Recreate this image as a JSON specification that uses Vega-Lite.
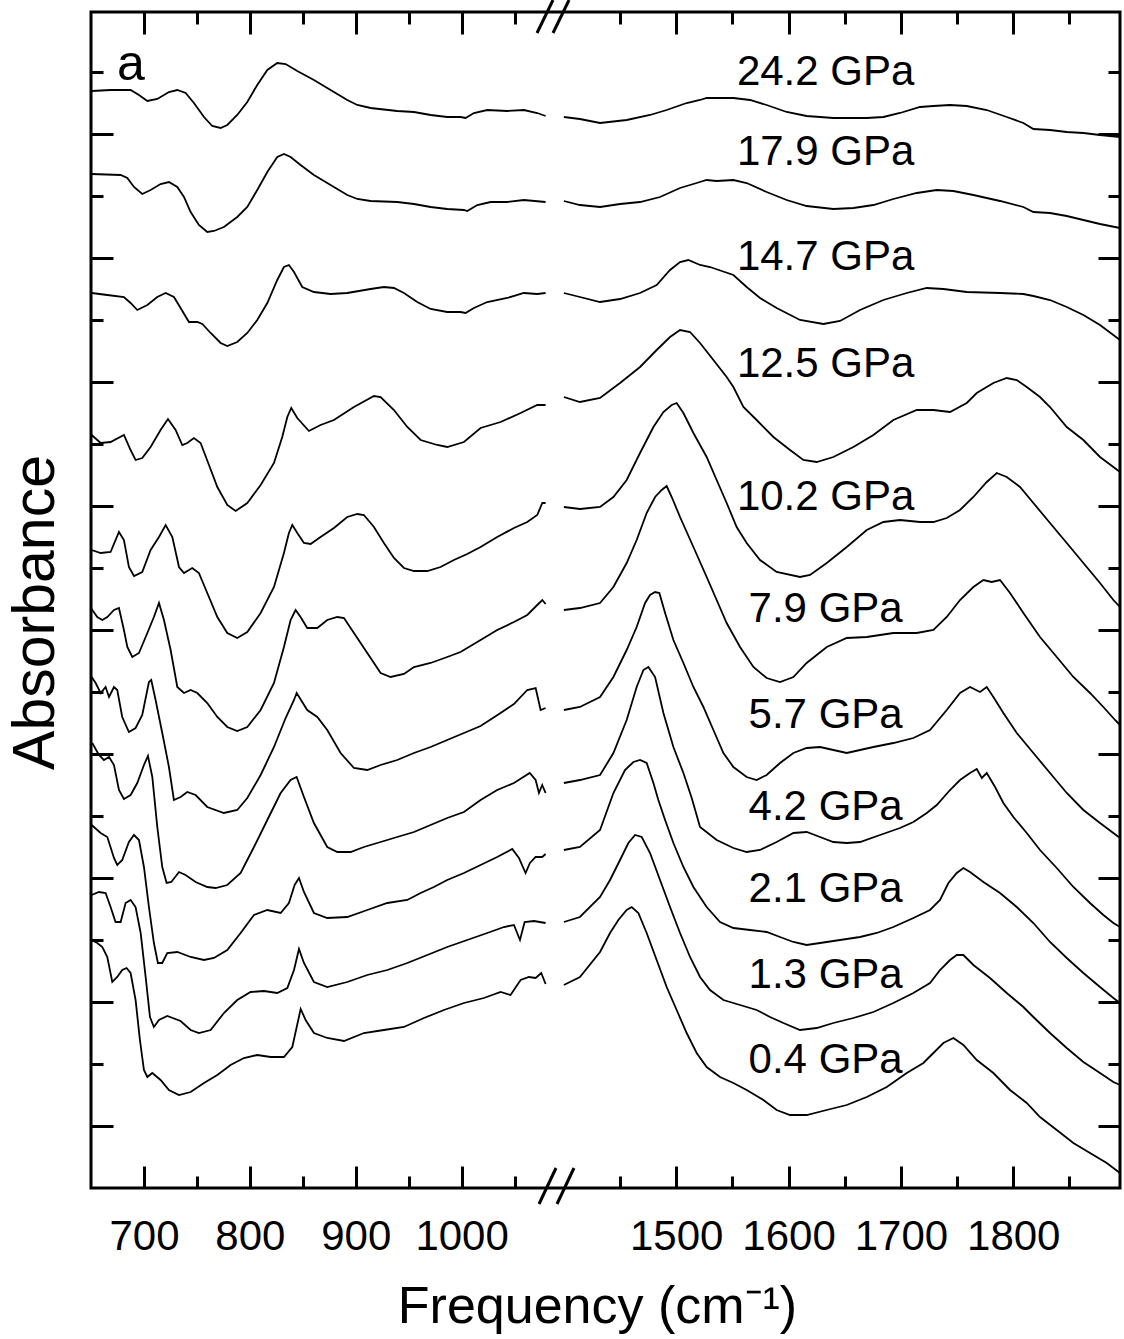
{
"$schema": "https://vega.github.io/schema/vega-lite/v6.json",
"width": 1029, "height": 1176,
"autosize": {"type": "none"},
"padding": {"left": 91, "top": 12, "right": 4, "bottom": 151},
"background": "white",
"config": {
 "view": {"stroke": "black", "strokeWidth": 3},
 "font": "Liberation Sans",
 "axis": {"grid": false, "domain": false, "tickColor": "black", "tickWidth": 3, "labelColor": "black", "titleColor": "black", "labelFont": "Liberation Sans", "titleFont": "Liberation Sans", "titleFontWeight": "normal"}
},
"datasets": {
"spectra": [
{"p":"24.2","s":"L","f":650.6,"a":1.097},{"p":"24.2","s":"L","f":668.5,"a":1.098},{"p":"24.2","s":"L","f":687.4,"a":1.098},{"p":"24.2","s":"L","f":695.3,"a":1.093},{"p":"24.2","s":"L","f":703.2,"a":1.087},{"p":"24.2","s":"L","f":712.6,"a":1.089},{"p":"24.2","s":"L","f":723.6,"a":1.096},{"p":"24.2","s":"L","f":731.5,"a":1.098},{"p":"24.2","s":"L","f":739.4,"a":1.095},{"p":"24.2","s":"L","f":747.2,"a":1.085},{"p":"24.2","s":"L","f":756.7,"a":1.071},{"p":"24.2","s":"L","f":764.5,"a":1.062},{"p":"24.2","s":"L","f":772.4,"a":1.060},{"p":"24.2","s":"L","f":778.7,"a":1.063},{"p":"24.2","s":"L","f":788.1,"a":1.073},{"p":"24.2","s":"L","f":797.6,"a":1.086},{"p":"24.2","s":"L","f":807.0,"a":1.103},{"p":"24.2","s":"L","f":816.5,"a":1.118},{"p":"24.2","s":"L","f":825.9,"a":1.125},{"p":"24.2","s":"L","f":833.8,"a":1.124},{"p":"24.2","s":"L","f":844.8,"a":1.117},{"p":"24.2","s":"L","f":860.5,"a":1.108},{"p":"24.2","s":"L","f":879.4,"a":1.096},{"p":"24.2","s":"L","f":892.0,"a":1.088},{"p":"24.2","s":"L","f":901.5,"a":1.083},{"p":"24.2","s":"L","f":914.0,"a":1.080},{"p":"24.2","s":"L","f":939.2,"a":1.077},{"p":"24.2","s":"L","f":955.0,"a":1.076},{"p":"24.2","s":"L","f":970.7,"a":1.073},{"p":"24.2","s":"L","f":986.4,"a":1.071},{"p":"24.2","s":"L","f":999.0,"a":1.071},{"p":"24.2","s":"L","f":1003.7,"a":1.070},{"p":"24.2","s":"L","f":1011.6,"a":1.075},{"p":"24.2","s":"L","f":1024.2,"a":1.078},{"p":"24.2","s":"L","f":1043.1,"a":1.077},{"p":"24.2","s":"L","f":1058.8,"a":1.078},{"p":"24.2","s":"L","f":1071.4,"a":1.075},{"p":"24.2","s":"L","f":1079.3,"a":1.072},
{"p":"24.2","s":"R","f":1400,"a":1.071},{"p":"24.2","s":"R","f":1414.3,"a":1.069},{"p":"24.2","s":"R","f":1432.2,"a":1.065},{"p":"24.2","s":"R","f":1455.9,"a":1.068},{"p":"24.2","s":"R","f":1476.7,"a":1.073},{"p":"24.2","s":"R","f":1491.5,"a":1.078},{"p":"24.2","s":"R","f":1509.3,"a":1.085},{"p":"24.2","s":"R","f":1521.2,"a":1.088},{"p":"24.2","s":"R","f":1527.1,"a":1.090},{"p":"24.2","s":"R","f":1550.9,"a":1.090},{"p":"24.2","s":"R","f":1565.7,"a":1.088},{"p":"24.2","s":"R","f":1580.5,"a":1.083},{"p":"24.2","s":"R","f":1598.3,"a":1.076},{"p":"24.2","s":"R","f":1616.1,"a":1.072},{"p":"24.2","s":"R","f":1639.9,"a":1.070},{"p":"24.2","s":"R","f":1669.6,"a":1.070},{"p":"24.2","s":"R","f":1684.4,"a":1.071},{"p":"24.2","s":"R","f":1699.2,"a":1.075},{"p":"24.2","s":"R","f":1717.0,"a":1.081},{"p":"24.2","s":"R","f":1728.9,"a":1.082},{"p":"24.2","s":"R","f":1743.7,"a":1.083},{"p":"24.2","s":"R","f":1758.6,"a":1.082},{"p":"24.2","s":"R","f":1776.4,"a":1.078},{"p":"24.2","s":"R","f":1794.2,"a":1.071},{"p":"24.2","s":"R","f":1809.0,"a":1.065},{"p":"24.2","s":"R","f":1817.9,"a":1.059},{"p":"24.2","s":"R","f":1832.7,"a":1.058},{"p":"24.2","s":"R","f":1847.6,"a":1.056},{"p":"24.2","s":"R","f":1862.4,"a":1.055},{"p":"24.2","s":"R","f":1877.2,"a":1.053},{"p":"24.2","s":"R","f":1895.0,"a":1.051},
{"p":"17.9","s":"L","f":650.6,"a":1.014},{"p":"17.9","s":"L","f":678.0,"a":1.013},{"p":"17.9","s":"L","f":684.3,"a":1.010},{"p":"17.9","s":"L","f":690.6,"a":1.001},{"p":"17.9","s":"L","f":698.4,"a":0.994},{"p":"17.9","s":"L","f":706.3,"a":0.998},{"p":"17.9","s":"L","f":715.7,"a":1.004},{"p":"17.9","s":"L","f":723.6,"a":1.006},{"p":"17.9","s":"L","f":731.5,"a":1.001},{"p":"17.9","s":"L","f":737.8,"a":0.991},{"p":"17.9","s":"L","f":744.1,"a":0.976},{"p":"17.9","s":"L","f":751.9,"a":0.963},{"p":"17.9","s":"L","f":759.8,"a":0.956},{"p":"17.9","s":"L","f":766.1,"a":0.957},{"p":"17.9","s":"L","f":775.5,"a":0.961},{"p":"17.9","s":"L","f":788.1,"a":0.971},{"p":"17.9","s":"L","f":797.6,"a":0.981},{"p":"17.9","s":"L","f":807.0,"a":0.998},{"p":"17.9","s":"L","f":816.5,"a":1.016},{"p":"17.9","s":"L","f":825.9,"a":1.031},{"p":"17.9","s":"L","f":832.2,"a":1.034},{"p":"17.9","s":"L","f":838.5,"a":1.031},{"p":"17.9","s":"L","f":847.9,"a":1.023},{"p":"17.9","s":"L","f":860.5,"a":1.013},{"p":"17.9","s":"L","f":879.4,"a":1.001},{"p":"17.9","s":"L","f":892.0,"a":0.993},{"p":"17.9","s":"L","f":901.5,"a":0.989},{"p":"17.9","s":"L","f":914.0,"a":0.987},{"p":"17.9","s":"L","f":939.2,"a":0.986},{"p":"17.9","s":"L","f":955.0,"a":0.984},{"p":"17.9","s":"L","f":970.7,"a":0.981},{"p":"17.9","s":"L","f":986.4,"a":0.979},{"p":"17.9","s":"L","f":1002.2,"a":0.978},{"p":"17.9","s":"L","f":1005.3,"a":0.977},{"p":"17.9","s":"L","f":1014.8,"a":0.983},{"p":"17.9","s":"L","f":1027.4,"a":0.986},{"p":"17.9","s":"L","f":1043.1,"a":0.986},{"p":"17.9","s":"L","f":1058.8,"a":0.988},{"p":"17.9","s":"L","f":1079.3,"a":0.986},
{"p":"17.9","s":"R","f":1400,"a":0.987},{"p":"17.9","s":"R","f":1414.3,"a":0.983},{"p":"17.9","s":"R","f":1432.2,"a":0.981},{"p":"17.9","s":"R","f":1450.0,"a":0.984},{"p":"17.9","s":"R","f":1467.8,"a":0.986},{"p":"17.9","s":"R","f":1485.6,"a":0.991},{"p":"17.9","s":"R","f":1503.4,"a":1.000},{"p":"17.9","s":"R","f":1518.2,"a":1.005},{"p":"17.9","s":"R","f":1527.1,"a":1.008},{"p":"17.9","s":"R","f":1536.0,"a":1.007},{"p":"17.9","s":"R","f":1550.9,"a":1.008},{"p":"17.9","s":"R","f":1562.7,"a":1.005},{"p":"17.9","s":"R","f":1580.5,"a":0.996},{"p":"17.9","s":"R","f":1598.3,"a":0.988},{"p":"17.9","s":"R","f":1616.1,"a":0.982},{"p":"17.9","s":"R","f":1639.9,"a":0.979},{"p":"17.9","s":"R","f":1657.7,"a":0.980},{"p":"17.9","s":"R","f":1675.5,"a":0.983},{"p":"17.9","s":"R","f":1693.3,"a":0.989},{"p":"17.9","s":"R","f":1714.1,"a":0.995},{"p":"17.9","s":"R","f":1731.9,"a":0.998},{"p":"17.9","s":"R","f":1746.7,"a":0.997},{"p":"17.9","s":"R","f":1764.5,"a":0.993},{"p":"17.9","s":"R","f":1788.2,"a":0.987},{"p":"17.9","s":"R","f":1809.0,"a":0.981},{"p":"17.9","s":"R","f":1817.9,"a":0.976},{"p":"17.9","s":"R","f":1832.7,"a":0.975},{"p":"17.9","s":"R","f":1847.6,"a":0.972},{"p":"17.9","s":"R","f":1862.4,"a":0.968},{"p":"17.9","s":"R","f":1877.2,"a":0.964},{"p":"17.9","s":"R","f":1895.0,"a":0.960},
{"p":"14.7","s":"L","f":650.6,"a":0.895},{"p":"14.7","s":"L","f":665.4,"a":0.893},{"p":"14.7","s":"L","f":681.1,"a":0.891},{"p":"14.7","s":"L","f":687.4,"a":0.885},{"p":"14.7","s":"L","f":693.7,"a":0.878},{"p":"14.7","s":"L","f":703.2,"a":0.883},{"p":"14.7","s":"L","f":712.6,"a":0.891},{"p":"14.7","s":"L","f":720.5,"a":0.895},{"p":"14.7","s":"L","f":728.3,"a":0.891},{"p":"14.7","s":"L","f":734.6,"a":0.880},{"p":"14.7","s":"L","f":742.5,"a":0.866},{"p":"14.7","s":"L","f":750.4,"a":0.866},{"p":"14.7","s":"L","f":755.1,"a":0.864},{"p":"14.7","s":"L","f":763.0,"a":0.855},{"p":"14.7","s":"L","f":772.4,"a":0.845},{"p":"14.7","s":"L","f":778.7,"a":0.842},{"p":"14.7","s":"L","f":788.1,"a":0.846},{"p":"14.7","s":"L","f":797.6,"a":0.855},{"p":"14.7","s":"L","f":807.0,"a":0.868},{"p":"14.7","s":"L","f":816.5,"a":0.885},{"p":"14.7","s":"L","f":825.9,"a":0.908},{"p":"14.7","s":"L","f":832.2,"a":0.921},{"p":"14.7","s":"L","f":836.9,"a":0.923},{"p":"14.7","s":"L","f":841.7,"a":0.916},{"p":"14.7","s":"L","f":849.5,"a":0.901},{"p":"14.7","s":"L","f":860.5,"a":0.896},{"p":"14.7","s":"L","f":876.3,"a":0.894},{"p":"14.7","s":"L","f":892.0,"a":0.895},{"p":"14.7","s":"L","f":914.0,"a":0.899},{"p":"14.7","s":"L","f":926.6,"a":0.901},{"p":"14.7","s":"L","f":936.1,"a":0.900},{"p":"14.7","s":"L","f":945.5,"a":0.895},{"p":"14.7","s":"L","f":958.1,"a":0.886},{"p":"14.7","s":"L","f":970.7,"a":0.879},{"p":"14.7","s":"L","f":986.4,"a":0.876},{"p":"14.7","s":"L","f":999.0,"a":0.876},{"p":"14.7","s":"L","f":1003.7,"a":0.875},{"p":"14.7","s":"L","f":1011.6,"a":0.880},{"p":"14.7","s":"L","f":1024.2,"a":0.886},{"p":"14.7","s":"L","f":1043.1,"a":0.890},{"p":"14.7","s":"L","f":1058.8,"a":0.895},{"p":"14.7","s":"L","f":1071.4,"a":0.894},{"p":"14.7","s":"L","f":1079.3,"a":0.895},
{"p":"14.7","s":"R","f":1400,"a":0.895},{"p":"14.7","s":"R","f":1414.3,"a":0.891},{"p":"14.7","s":"R","f":1432.2,"a":0.886},{"p":"14.7","s":"R","f":1450.0,"a":0.889},{"p":"14.7","s":"R","f":1467.8,"a":0.895},{"p":"14.7","s":"R","f":1482.6,"a":0.903},{"p":"14.7","s":"R","f":1494.5,"a":0.918},{"p":"14.7","s":"R","f":1503.4,"a":0.926},{"p":"14.7","s":"R","f":1510.8,"a":0.928},{"p":"14.7","s":"R","f":1521.2,"a":0.923},{"p":"14.7","s":"R","f":1530.1,"a":0.921},{"p":"14.7","s":"R","f":1550.9,"a":0.913},{"p":"14.7","s":"R","f":1562.7,"a":0.901},{"p":"14.7","s":"R","f":1574.6,"a":0.890},{"p":"14.7","s":"R","f":1589.4,"a":0.880},{"p":"14.7","s":"R","f":1610.2,"a":0.868},{"p":"14.7","s":"R","f":1631.0,"a":0.864},{"p":"14.7","s":"R","f":1645.8,"a":0.867},{"p":"14.7","s":"R","f":1663.6,"a":0.878},{"p":"14.7","s":"R","f":1684.4,"a":0.888},{"p":"14.7","s":"R","f":1705.2,"a":0.895},{"p":"14.7","s":"R","f":1723.0,"a":0.900},{"p":"14.7","s":"R","f":1737.8,"a":0.899},{"p":"14.7","s":"R","f":1758.6,"a":0.896},{"p":"14.7","s":"R","f":1788.2,"a":0.895},{"p":"14.7","s":"R","f":1809.0,"a":0.894},{"p":"14.7","s":"R","f":1817.9,"a":0.892},{"p":"14.7","s":"R","f":1832.7,"a":0.888},{"p":"14.7","s":"R","f":1847.6,"a":0.881},{"p":"14.7","s":"R","f":1862.4,"a":0.873},{"p":"14.7","s":"R","f":1877.2,"a":0.863},{"p":"14.7","s":"R","f":1895.0,"a":0.848},
{"p":"12.5","s":"L","f":650.6,"a":0.753},{"p":"12.5","s":"L","f":659.1,"a":0.745},{"p":"12.5","s":"L","f":668.5,"a":0.746},{"p":"12.5","s":"L","f":681.1,"a":0.753},{"p":"12.5","s":"L","f":687.4,"a":0.738},{"p":"12.5","s":"L","f":692.1,"a":0.728},{"p":"12.5","s":"L","f":698.4,"a":0.730},{"p":"12.5","s":"L","f":706.3,"a":0.741},{"p":"12.5","s":"L","f":715.7,"a":0.758},{"p":"12.5","s":"L","f":722.7,"a":0.769},{"p":"12.5","s":"L","f":729.9,"a":0.758},{"p":"12.5","s":"L","f":736.2,"a":0.743},{"p":"12.5","s":"L","f":740.9,"a":0.745},{"p":"12.5","s":"L","f":747.2,"a":0.750},{"p":"12.5","s":"L","f":753.5,"a":0.745},{"p":"12.5","s":"L","f":761.4,"a":0.723},{"p":"12.5","s":"L","f":769.3,"a":0.701},{"p":"12.5","s":"L","f":778.7,"a":0.683},{"p":"12.5","s":"L","f":786.6,"a":0.677},{"p":"12.5","s":"L","f":797.6,"a":0.685},{"p":"12.5","s":"L","f":810.2,"a":0.703},{"p":"12.5","s":"L","f":822.8,"a":0.725},{"p":"12.5","s":"L","f":830.6,"a":0.751},{"p":"12.5","s":"L","f":835.4,"a":0.771},{"p":"12.5","s":"L","f":839.1,"a":0.780},{"p":"12.5","s":"L","f":844.8,"a":0.770},{"p":"12.5","s":"L","f":855.8,"a":0.757},{"p":"12.5","s":"L","f":866.8,"a":0.763},{"p":"12.5","s":"L","f":879.4,"a":0.768},{"p":"12.5","s":"L","f":898.3,"a":0.781},{"p":"12.5","s":"L","f":917.2,"a":0.792},{"p":"12.5","s":"L","f":923.5,"a":0.791},{"p":"12.5","s":"L","f":936.1,"a":0.778},{"p":"12.5","s":"L","f":948.7,"a":0.761},{"p":"12.5","s":"L","f":961.3,"a":0.748},{"p":"12.5","s":"L","f":977.0,"a":0.743},{"p":"12.5","s":"L","f":986.4,"a":0.741},{"p":"12.5","s":"L","f":1002.2,"a":0.746},{"p":"12.5","s":"L","f":1017.9,"a":0.760},{"p":"12.5","s":"L","f":1036.8,"a":0.766},{"p":"12.5","s":"L","f":1055.7,"a":0.775},{"p":"12.5","s":"L","f":1071.4,"a":0.783},{"p":"12.5","s":"L","f":1079.3,"a":0.783},
{"p":"12.5","s":"R","f":1400,"a":0.791},{"p":"12.5","s":"R","f":1414.3,"a":0.786},{"p":"12.5","s":"R","f":1432.2,"a":0.790},{"p":"12.5","s":"R","f":1450.0,"a":0.805},{"p":"12.5","s":"R","f":1467.8,"a":0.821},{"p":"12.5","s":"R","f":1482.6,"a":0.838},{"p":"12.5","s":"R","f":1494.5,"a":0.851},{"p":"12.5","s":"R","f":1503.4,"a":0.858},{"p":"12.5","s":"R","f":1512.3,"a":0.856},{"p":"12.5","s":"R","f":1521.2,"a":0.845},{"p":"12.5","s":"R","f":1533.1,"a":0.828},{"p":"12.5","s":"R","f":1544.9,"a":0.811},{"p":"12.5","s":"R","f":1550.9,"a":0.801},{"p":"12.5","s":"R","f":1559.8,"a":0.781},{"p":"12.5","s":"R","f":1571.6,"a":0.768},{"p":"12.5","s":"R","f":1586.5,"a":0.751},{"p":"12.5","s":"R","f":1601.3,"a":0.738},{"p":"12.5","s":"R","f":1613.2,"a":0.728},{"p":"12.5","s":"R","f":1625.0,"a":0.726},{"p":"12.5","s":"R","f":1639.9,"a":0.731},{"p":"12.5","s":"R","f":1657.7,"a":0.741},{"p":"12.5","s":"R","f":1675.5,"a":0.753},{"p":"12.5","s":"R","f":1693.3,"a":0.768},{"p":"12.5","s":"R","f":1714.1,"a":0.778},{"p":"12.5","s":"R","f":1728.9,"a":0.778},{"p":"12.5","s":"R","f":1743.7,"a":0.776},{"p":"12.5","s":"R","f":1758.6,"a":0.785},{"p":"12.5","s":"R","f":1767.5,"a":0.795},{"p":"12.5","s":"R","f":1782.3,"a":0.805},{"p":"12.5","s":"R","f":1794.2,"a":0.810},{"p":"12.5","s":"R","f":1803.1,"a":0.808},{"p":"12.5","s":"R","f":1812.0,"a":0.801},{"p":"12.5","s":"R","f":1823.8,"a":0.791},{"p":"12.5","s":"R","f":1832.7,"a":0.781},{"p":"12.5","s":"R","f":1847.6,"a":0.761},{"p":"12.5","s":"R","f":1862.4,"a":0.748},{"p":"12.5","s":"R","f":1877.2,"a":0.731},{"p":"12.5","s":"R","f":1889.1,"a":0.721},{"p":"12.5","s":"R","f":1895.0,"a":0.716},
{"p":"10.2","s":"L","f":650.6,"a":0.638},{"p":"10.2","s":"L","f":659.1,"a":0.635},{"p":"10.2","s":"L","f":668.5,"a":0.636},{"p":"10.2","s":"L","f":676.4,"a":0.656},{"p":"10.2","s":"L","f":681.1,"a":0.648},{"p":"10.2","s":"L","f":685.8,"a":0.621},{"p":"10.2","s":"L","f":690.6,"a":0.612},{"p":"10.2","s":"L","f":698.4,"a":0.616},{"p":"10.2","s":"L","f":706.3,"a":0.638},{"p":"10.2","s":"L","f":714.2,"a":0.651},{"p":"10.2","s":"L","f":720.5,"a":0.663},{"p":"10.2","s":"L","f":726.8,"a":0.651},{"p":"10.2","s":"L","f":733.1,"a":0.621},{"p":"10.2","s":"L","f":737.8,"a":0.615},{"p":"10.2","s":"L","f":745.6,"a":0.620},{"p":"10.2","s":"L","f":751.9,"a":0.615},{"p":"10.2","s":"L","f":759.8,"a":0.595},{"p":"10.2","s":"L","f":769.3,"a":0.571},{"p":"10.2","s":"L","f":778.7,"a":0.555},{"p":"10.2","s":"L","f":788.1,"a":0.550},{"p":"10.2","s":"L","f":797.6,"a":0.556},{"p":"10.2","s":"L","f":810.2,"a":0.575},{"p":"10.2","s":"L","f":822.8,"a":0.601},{"p":"10.2","s":"L","f":832.2,"a":0.635},{"p":"10.2","s":"L","f":836.9,"a":0.655},{"p":"10.2","s":"L","f":840.1,"a":0.663},{"p":"10.2","s":"L","f":844.8,"a":0.655},{"p":"10.2","s":"L","f":851.1,"a":0.645},{"p":"10.2","s":"L","f":857.4,"a":0.644},{"p":"10.2","s":"L","f":866.8,"a":0.651},{"p":"10.2","s":"L","f":879.4,"a":0.660},{"p":"10.2","s":"L","f":892.0,"a":0.671},{"p":"10.2","s":"L","f":901.5,"a":0.674},{"p":"10.2","s":"L","f":907.7,"a":0.673},{"p":"10.2","s":"L","f":917.2,"a":0.661},{"p":"10.2","s":"L","f":926.6,"a":0.645},{"p":"10.2","s":"L","f":936.1,"a":0.630},{"p":"10.2","s":"L","f":945.5,"a":0.620},{"p":"10.2","s":"L","f":955.0,"a":0.617},{"p":"10.2","s":"L","f":967.6,"a":0.617},{"p":"10.2","s":"L","f":980.1,"a":0.621},{"p":"10.2","s":"L","f":992.7,"a":0.628},{"p":"10.2","s":"L","f":1005.3,"a":0.634},{"p":"10.2","s":"L","f":1017.9,"a":0.641},{"p":"10.2","s":"L","f":1033.6,"a":0.651},{"p":"10.2","s":"L","f":1049.4,"a":0.660},{"p":"10.2","s":"L","f":1062.0,"a":0.666},{"p":"10.2","s":"L","f":1071.4,"a":0.673},{"p":"10.2","s":"L","f":1076.2,"a":0.685},{"p":"10.2","s":"L","f":1079.3,"a":0.685},
{"p":"10.2","s":"R","f":1400,"a":0.681},{"p":"10.2","s":"R","f":1414.3,"a":0.679},{"p":"10.2","s":"R","f":1432.2,"a":0.681},{"p":"10.2","s":"R","f":1444.1,"a":0.691},{"p":"10.2","s":"R","f":1455.9,"a":0.708},{"p":"10.2","s":"R","f":1467.8,"a":0.735},{"p":"10.2","s":"R","f":1479.7,"a":0.761},{"p":"10.2","s":"R","f":1488.6,"a":0.776},{"p":"10.2","s":"R","f":1496.0,"a":0.783},{"p":"10.2","s":"R","f":1500.4,"a":0.785},{"p":"10.2","s":"R","f":1506.4,"a":0.775},{"p":"10.2","s":"R","f":1515.3,"a":0.755},{"p":"10.2","s":"R","f":1527.1,"a":0.731},{"p":"10.2","s":"R","f":1536.0,"a":0.708},{"p":"10.2","s":"R","f":1544.9,"a":0.685},{"p":"10.2","s":"R","f":1553.8,"a":0.661},{"p":"10.2","s":"R","f":1562.7,"a":0.645},{"p":"10.2","s":"R","f":1574.6,"a":0.628},{"p":"10.2","s":"R","f":1589.4,"a":0.616},{"p":"10.2","s":"R","f":1610.2,"a":0.611},{"p":"10.2","s":"R","f":1619.1,"a":0.613},{"p":"10.2","s":"R","f":1634.0,"a":0.625},{"p":"10.2","s":"R","f":1651.8,"a":0.641},{"p":"10.2","s":"R","f":1669.6,"a":0.658},{"p":"10.2","s":"R","f":1684.4,"a":0.666},{"p":"10.2","s":"R","f":1699.2,"a":0.668},{"p":"10.2","s":"R","f":1717.0,"a":0.666},{"p":"10.2","s":"R","f":1728.9,"a":0.666},{"p":"10.2","s":"R","f":1740.8,"a":0.670},{"p":"10.2","s":"R","f":1752.6,"a":0.678},{"p":"10.2","s":"R","f":1764.5,"a":0.691},{"p":"10.2","s":"R","f":1776.4,"a":0.706},{"p":"10.2","s":"R","f":1785.3,"a":0.715},{"p":"10.2","s":"R","f":1794.2,"a":0.711},{"p":"10.2","s":"R","f":1806.0,"a":0.701},{"p":"10.2","s":"R","f":1817.9,"a":0.685},{"p":"10.2","s":"R","f":1832.7,"a":0.665},{"p":"10.2","s":"R","f":1847.6,"a":0.645},{"p":"10.2","s":"R","f":1862.4,"a":0.625},{"p":"10.2","s":"R","f":1877.2,"a":0.605},{"p":"10.2","s":"R","f":1889.1,"a":0.588},{"p":"10.2","s":"R","f":1895.0,"a":0.581},
{"p":"7.9","s":"L","f":650.6,"a":0.579},{"p":"7.9","s":"L","f":655.9,"a":0.571},{"p":"7.9","s":"L","f":660.7,"a":0.568},{"p":"7.9","s":"L","f":665.4,"a":0.571},{"p":"7.9","s":"L","f":671.7,"a":0.578},{"p":"7.9","s":"L","f":676.4,"a":0.580},{"p":"7.9","s":"L","f":681.1,"a":0.558},{"p":"7.9","s":"L","f":684.3,"a":0.541},{"p":"7.9","s":"L","f":689.0,"a":0.531},{"p":"7.9","s":"L","f":695.3,"a":0.535},{"p":"7.9","s":"L","f":703.2,"a":0.555},{"p":"7.9","s":"L","f":709.4,"a":0.571},{"p":"7.9","s":"L","f":714.2,"a":0.585},{"p":"7.9","s":"L","f":718.9,"a":0.568},{"p":"7.9","s":"L","f":725.2,"a":0.538},{"p":"7.9","s":"L","f":731.5,"a":0.501},{"p":"7.9","s":"L","f":737.8,"a":0.495},{"p":"7.9","s":"L","f":744.1,"a":0.498},{"p":"7.9","s":"L","f":750.4,"a":0.495},{"p":"7.9","s":"L","f":759.8,"a":0.485},{"p":"7.9","s":"L","f":769.3,"a":0.471},{"p":"7.9","s":"L","f":778.7,"a":0.461},{"p":"7.9","s":"L","f":788.1,"a":0.457},{"p":"7.9","s":"L","f":797.6,"a":0.461},{"p":"7.9","s":"L","f":810.2,"a":0.478},{"p":"7.9","s":"L","f":822.8,"a":0.505},{"p":"7.9","s":"L","f":832.2,"a":0.541},{"p":"7.9","s":"L","f":838.5,"a":0.568},{"p":"7.9","s":"L","f":843.2,"a":0.578},{"p":"7.9","s":"L","f":847.9,"a":0.571},{"p":"7.9","s":"L","f":854.2,"a":0.560},{"p":"7.9","s":"L","f":863.7,"a":0.560},{"p":"7.9","s":"L","f":873.1,"a":0.568},{"p":"7.9","s":"L","f":882.6,"a":0.571},{"p":"7.9","s":"L","f":888.9,"a":0.570},{"p":"7.9","s":"L","f":898.3,"a":0.555},{"p":"7.9","s":"L","f":910.9,"a":0.535},{"p":"7.9","s":"L","f":923.5,"a":0.515},{"p":"7.9","s":"L","f":932.9,"a":0.511},{"p":"7.9","s":"L","f":945.5,"a":0.514},{"p":"7.9","s":"L","f":955.0,"a":0.521},{"p":"7.9","s":"L","f":970.7,"a":0.525},{"p":"7.9","s":"L","f":986.4,"a":0.531},{"p":"7.9","s":"L","f":999.0,"a":0.536},{"p":"7.9","s":"L","f":1017.9,"a":0.548},{"p":"7.9","s":"L","f":1033.6,"a":0.558},{"p":"7.9","s":"L","f":1049.4,"a":0.566},{"p":"7.9","s":"L","f":1062.0,"a":0.573},{"p":"7.9","s":"L","f":1071.4,"a":0.583},{"p":"7.9","s":"L","f":1076.2,"a":0.588},{"p":"7.9","s":"L","f":1079.3,"a":0.584},
{"p":"7.9","s":"R","f":1400,"a":0.578},{"p":"7.9","s":"R","f":1414.3,"a":0.580},{"p":"7.9","s":"R","f":1432.2,"a":0.585},{"p":"7.9","s":"R","f":1444.1,"a":0.601},{"p":"7.9","s":"R","f":1455.9,"a":0.625},{"p":"7.9","s":"R","f":1464.8,"a":0.648},{"p":"7.9","s":"R","f":1473.7,"a":0.675},{"p":"7.9","s":"R","f":1481.2,"a":0.691},{"p":"7.9","s":"R","f":1487.1,"a":0.698},{"p":"7.9","s":"R","f":1491.5,"a":0.702},{"p":"7.9","s":"R","f":1496.0,"a":0.691},{"p":"7.9","s":"R","f":1503.4,"a":0.671},{"p":"7.9","s":"R","f":1515.3,"a":0.641},{"p":"7.9","s":"R","f":1527.1,"a":0.611},{"p":"7.9","s":"R","f":1536.0,"a":0.588},{"p":"7.9","s":"R","f":1544.9,"a":0.565},{"p":"7.9","s":"R","f":1556.8,"a":0.541},{"p":"7.9","s":"R","f":1568.7,"a":0.521},{"p":"7.9","s":"R","f":1580.5,"a":0.510},{"p":"7.9","s":"R","f":1592.4,"a":0.506},{"p":"7.9","s":"R","f":1604.3,"a":0.511},{"p":"7.9","s":"R","f":1616.1,"a":0.525},{"p":"7.9","s":"R","f":1634.0,"a":0.541},{"p":"7.9","s":"R","f":1651.8,"a":0.550},{"p":"7.9","s":"R","f":1669.6,"a":0.551},{"p":"7.9","s":"R","f":1693.3,"a":0.555},{"p":"7.9","s":"R","f":1714.1,"a":0.555},{"p":"7.9","s":"R","f":1728.9,"a":0.558},{"p":"7.9","s":"R","f":1740.8,"a":0.571},{"p":"7.9","s":"R","f":1752.6,"a":0.588},{"p":"7.9","s":"R","f":1764.5,"a":0.601},{"p":"7.9","s":"R","f":1773.4,"a":0.608},{"p":"7.9","s":"R","f":1780.8,"a":0.606},{"p":"7.9","s":"R","f":1788.2,"a":0.608},{"p":"7.9","s":"R","f":1797.1,"a":0.595},{"p":"7.9","s":"R","f":1809.0,"a":0.575},{"p":"7.9","s":"R","f":1823.8,"a":0.551},{"p":"7.9","s":"R","f":1838.7,"a":0.531},{"p":"7.9","s":"R","f":1853.5,"a":0.511},{"p":"7.9","s":"R","f":1868.3,"a":0.495},{"p":"7.9","s":"R","f":1880.2,"a":0.481},{"p":"7.9","s":"R","f":1890.6,"a":0.468},{"p":"7.9","s":"R","f":1895.0,"a":0.463},
{"p":"5.7","s":"L","f":650.6,"a":0.511},{"p":"5.7","s":"L","f":654.4,"a":0.505},{"p":"5.7","s":"L","f":659.1,"a":0.495},{"p":"5.7","s":"L","f":663.8,"a":0.501},{"p":"5.7","s":"L","f":667.0,"a":0.491},{"p":"5.7","s":"L","f":671.7,"a":0.501},{"p":"5.7","s":"L","f":674.8,"a":0.498},{"p":"5.7","s":"L","f":679.5,"a":0.471},{"p":"5.7","s":"L","f":685.8,"a":0.456},{"p":"5.7","s":"L","f":692.1,"a":0.460},{"p":"5.7","s":"L","f":698.4,"a":0.473},{"p":"5.7","s":"L","f":704.7,"a":0.506},{"p":"5.7","s":"L","f":706.9,"a":0.508},{"p":"5.7","s":"L","f":711.0,"a":0.488},{"p":"5.7","s":"L","f":717.3,"a":0.455},{"p":"5.7","s":"L","f":723.6,"a":0.421},{"p":"5.7","s":"L","f":728.3,"a":0.388},{"p":"5.7","s":"L","f":734.6,"a":0.391},{"p":"5.7","s":"L","f":740.9,"a":0.396},{"p":"5.7","s":"L","f":748.8,"a":0.393},{"p":"5.7","s":"L","f":759.8,"a":0.381},{"p":"5.7","s":"L","f":775.5,"a":0.375},{"p":"5.7","s":"L","f":788.1,"a":0.378},{"p":"5.7","s":"L","f":797.6,"a":0.390},{"p":"5.7","s":"L","f":810.2,"a":0.413},{"p":"5.7","s":"L","f":822.8,"a":0.441},{"p":"5.7","s":"L","f":833.8,"a":0.470},{"p":"5.7","s":"L","f":841.7,"a":0.488},{"p":"5.7","s":"L","f":844.2,"a":0.495},{"p":"5.7","s":"L","f":854.2,"a":0.478},{"p":"5.7","s":"L","f":863.7,"a":0.471},{"p":"5.7","s":"L","f":873.1,"a":0.458},{"p":"5.7","s":"L","f":885.7,"a":0.435},{"p":"5.7","s":"L","f":898.3,"a":0.420},{"p":"5.7","s":"L","f":910.9,"a":0.418},{"p":"5.7","s":"L","f":923.5,"a":0.423},{"p":"5.7","s":"L","f":939.2,"a":0.428},{"p":"5.7","s":"L","f":955.0,"a":0.435},{"p":"5.7","s":"L","f":970.7,"a":0.441},{"p":"5.7","s":"L","f":986.4,"a":0.448},{"p":"5.7","s":"L","f":1002.2,"a":0.455},{"p":"5.7","s":"L","f":1017.9,"a":0.462},{"p":"5.7","s":"L","f":1036.8,"a":0.475},{"p":"5.7","s":"L","f":1049.4,"a":0.484},{"p":"5.7","s":"L","f":1062.0,"a":0.498},{"p":"5.7","s":"L","f":1069.9,"a":0.500},{"p":"5.7","s":"L","f":1074.6,"a":0.478},{"p":"5.7","s":"L","f":1079.3,"a":0.480},
{"p":"5.7","s":"R","f":1400,"a":0.478},{"p":"5.7","s":"R","f":1414.3,"a":0.481},{"p":"5.7","s":"R","f":1432.2,"a":0.491},{"p":"5.7","s":"R","f":1444.1,"a":0.511},{"p":"5.7","s":"R","f":1455.9,"a":0.538},{"p":"5.7","s":"R","f":1464.8,"a":0.561},{"p":"5.7","s":"R","f":1472.3,"a":0.585},{"p":"5.7","s":"R","f":1476.7,"a":0.593},{"p":"5.7","s":"R","f":1481.2,"a":0.596},{"p":"5.7","s":"R","f":1485.0,"a":0.595},{"p":"5.7","s":"R","f":1490.1,"a":0.575},{"p":"5.7","s":"R","f":1497.5,"a":0.548},{"p":"5.7","s":"R","f":1506.4,"a":0.525},{"p":"5.7","s":"R","f":1515.3,"a":0.501},{"p":"5.7","s":"R","f":1524.2,"a":0.481},{"p":"5.7","s":"R","f":1533.1,"a":0.458},{"p":"5.7","s":"R","f":1542.0,"a":0.435},{"p":"5.7","s":"R","f":1550.9,"a":0.421},{"p":"5.7","s":"R","f":1562.7,"a":0.411},{"p":"5.7","s":"R","f":1571.6,"a":0.408},{"p":"5.7","s":"R","f":1580.5,"a":0.413},{"p":"5.7","s":"R","f":1592.4,"a":0.425},{"p":"5.7","s":"R","f":1604.3,"a":0.435},{"p":"5.7","s":"R","f":1616.1,"a":0.440},{"p":"5.7","s":"R","f":1628.0,"a":0.441},{"p":"5.7","s":"R","f":1639.9,"a":0.438},{"p":"5.7","s":"R","f":1651.8,"a":0.435},{"p":"5.7","s":"R","f":1663.6,"a":0.438},{"p":"5.7","s":"R","f":1675.5,"a":0.441},{"p":"5.7","s":"R","f":1693.3,"a":0.445},{"p":"5.7","s":"R","f":1711.1,"a":0.450},{"p":"5.7","s":"R","f":1725.9,"a":0.458},{"p":"5.7","s":"R","f":1740.8,"a":0.478},{"p":"5.7","s":"R","f":1752.6,"a":0.495},{"p":"5.7","s":"R","f":1761.5,"a":0.501},{"p":"5.7","s":"R","f":1770.4,"a":0.496},{"p":"5.7","s":"R","f":1776.4,"a":0.501},{"p":"5.7","s":"R","f":1782.3,"a":0.491},{"p":"5.7","s":"R","f":1791.2,"a":0.475},{"p":"5.7","s":"R","f":1803.1,"a":0.455},{"p":"5.7","s":"R","f":1817.9,"a":0.435},{"p":"5.7","s":"R","f":1832.7,"a":0.415},{"p":"5.7","s":"R","f":1847.6,"a":0.395},{"p":"5.7","s":"R","f":1862.4,"a":0.378},{"p":"5.7","s":"R","f":1877.2,"a":0.365},{"p":"5.7","s":"R","f":1895.0,"a":0.350},
{"p":"4.2","s":"L","f":651.2,"a":0.445},{"p":"4.2","s":"L","f":657.5,"a":0.433},{"p":"4.2","s":"L","f":662.2,"a":0.428},{"p":"4.2","s":"L","f":667.0,"a":0.431},{"p":"4.2","s":"L","f":671.7,"a":0.423},{"p":"4.2","s":"L","f":676.4,"a":0.398},{"p":"4.2","s":"L","f":681.1,"a":0.389},{"p":"4.2","s":"L","f":687.4,"a":0.393},{"p":"4.2","s":"L","f":693.7,"a":0.405},{"p":"4.2","s":"L","f":700.0,"a":0.423},{"p":"4.2","s":"L","f":703.8,"a":0.432},{"p":"4.2","s":"L","f":707.9,"a":0.411},{"p":"4.2","s":"L","f":712.6,"a":0.361},{"p":"4.2","s":"L","f":717.3,"a":0.321},{"p":"4.2","s":"L","f":721.4,"a":0.305},{"p":"4.2","s":"L","f":725.8,"a":0.306},{"p":"4.2","s":"L","f":733.1,"a":0.316},{"p":"4.2","s":"L","f":739.3,"a":0.313},{"p":"4.2","s":"L","f":748.8,"a":0.306},{"p":"4.2","s":"L","f":759.8,"a":0.301},{"p":"4.2","s":"L","f":767.7,"a":0.300},{"p":"4.2","s":"L","f":778.7,"a":0.303},{"p":"4.2","s":"L","f":791.3,"a":0.315},{"p":"4.2","s":"L","f":803.9,"a":0.341},{"p":"4.2","s":"L","f":816.5,"a":0.368},{"p":"4.2","s":"L","f":829.1,"a":0.395},{"p":"4.2","s":"L","f":838.5,"a":0.408},{"p":"4.2","s":"L","f":844.2,"a":0.411},{"p":"4.2","s":"L","f":851.1,"a":0.391},{"p":"4.2","s":"L","f":860.5,"a":0.365},{"p":"4.2","s":"L","f":873.1,"a":0.341},{"p":"4.2","s":"L","f":882.6,"a":0.336},{"p":"4.2","s":"L","f":895.2,"a":0.336},{"p":"4.2","s":"L","f":907.7,"a":0.341},{"p":"4.2","s":"L","f":923.5,"a":0.346},{"p":"4.2","s":"L","f":939.2,"a":0.351},{"p":"4.2","s":"L","f":955.0,"a":0.356},{"p":"4.2","s":"L","f":970.7,"a":0.363},{"p":"4.2","s":"L","f":986.4,"a":0.370},{"p":"4.2","s":"L","f":1002.2,"a":0.376},{"p":"4.2","s":"L","f":1017.9,"a":0.388},{"p":"4.2","s":"L","f":1033.6,"a":0.398},{"p":"4.2","s":"L","f":1049.4,"a":0.405},{"p":"4.2","s":"L","f":1064.3,"a":0.415},{"p":"4.2","s":"L","f":1069.9,"a":0.408},{"p":"4.2","s":"L","f":1073.0,"a":0.395},{"p":"4.2","s":"L","f":1076.1,"a":0.403},{"p":"4.2","s":"L","f":1079.3,"a":0.395},
{"p":"4.2","s":"R","f":1400,"a":0.405},{"p":"4.2","s":"R","f":1414.3,"a":0.408},{"p":"4.2","s":"R","f":1432.2,"a":0.413},{"p":"4.2","s":"R","f":1444.1,"a":0.435},{"p":"4.2","s":"R","f":1455.9,"a":0.468},{"p":"4.2","s":"R","f":1464.8,"a":0.501},{"p":"4.2","s":"R","f":1470.8,"a":0.518},{"p":"4.2","s":"R","f":1475.2,"a":0.521},{"p":"4.2","s":"R","f":1481.2,"a":0.511},{"p":"4.2","s":"R","f":1488.6,"a":0.475},{"p":"4.2","s":"R","f":1497.5,"a":0.441},{"p":"4.2","s":"R","f":1506.4,"a":0.415},{"p":"4.2","s":"R","f":1513.8,"a":0.390},{"p":"4.2","s":"R","f":1521.2,"a":0.361},{"p":"4.2","s":"R","f":1536.0,"a":0.348},{"p":"4.2","s":"R","f":1550.9,"a":0.340},{"p":"4.2","s":"R","f":1562.7,"a":0.336},{"p":"4.2","s":"R","f":1574.6,"a":0.338},{"p":"4.2","s":"R","f":1589.4,"a":0.346},{"p":"4.2","s":"R","f":1604.3,"a":0.355},{"p":"4.2","s":"R","f":1616.1,"a":0.356},{"p":"4.2","s":"R","f":1628.0,"a":0.351},{"p":"4.2","s":"R","f":1639.9,"a":0.346},{"p":"4.2","s":"R","f":1651.8,"a":0.345},{"p":"4.2","s":"R","f":1663.6,"a":0.346},{"p":"4.2","s":"R","f":1681.4,"a":0.353},{"p":"4.2","s":"R","f":1699.2,"a":0.360},{"p":"4.2","s":"R","f":1711.1,"a":0.366},{"p":"4.2","s":"R","f":1723.0,"a":0.375},{"p":"4.2","s":"R","f":1731.9,"a":0.383},{"p":"4.2","s":"R","f":1743.7,"a":0.398},{"p":"4.2","s":"R","f":1752.6,"a":0.408},{"p":"4.2","s":"R","f":1761.5,"a":0.415},{"p":"4.2","s":"R","f":1767.5,"a":0.419},{"p":"4.2","s":"R","f":1772.0,"a":0.410},{"p":"4.2","s":"R","f":1776.4,"a":0.415},{"p":"4.2","s":"R","f":1783.8,"a":0.401},{"p":"4.2","s":"R","f":1791.2,"a":0.385},{"p":"4.2","s":"R","f":1800.1,"a":0.371},{"p":"4.2","s":"R","f":1812.0,"a":0.355},{"p":"4.2","s":"R","f":1823.8,"a":0.338},{"p":"4.2","s":"R","f":1838.7,"a":0.320},{"p":"4.2","s":"R","f":1853.5,"a":0.301},{"p":"4.2","s":"R","f":1868.3,"a":0.285},{"p":"4.2","s":"R","f":1880.2,"a":0.273},{"p":"4.2","s":"R","f":1889.1,"a":0.265},{"p":"4.2","s":"R","f":1895.0,"a":0.261},
{"p":"2.1","s":"L","f":650.6,"a":0.363},{"p":"2.1","s":"L","f":659.1,"a":0.355},{"p":"2.1","s":"L","f":665.4,"a":0.351},{"p":"2.1","s":"L","f":671.7,"a":0.330},{"p":"2.1","s":"L","f":674.8,"a":0.323},{"p":"2.1","s":"L","f":679.5,"a":0.328},{"p":"2.1","s":"L","f":685.8,"a":0.346},{"p":"2.1","s":"L","f":690.6,"a":0.353},{"p":"2.1","s":"L","f":695.3,"a":0.348},{"p":"2.1","s":"L","f":700.0,"a":0.321},{"p":"2.1","s":"L","f":704.7,"a":0.281},{"p":"2.1","s":"L","f":709.4,"a":0.245},{"p":"2.1","s":"L","f":713.2,"a":0.225},{"p":"2.1","s":"L","f":717.3,"a":0.225},{"p":"2.1","s":"L","f":722.0,"a":0.235},{"p":"2.1","s":"L","f":731.5,"a":0.236},{"p":"2.1","s":"L","f":744.1,"a":0.231},{"p":"2.1","s":"L","f":756.7,"a":0.228},{"p":"2.1","s":"L","f":766.1,"a":0.230},{"p":"2.1","s":"L","f":778.7,"a":0.238},{"p":"2.1","s":"L","f":791.3,"a":0.255},{"p":"2.1","s":"L","f":803.9,"a":0.273},{"p":"2.1","s":"L","f":816.5,"a":0.278},{"p":"2.1","s":"L","f":829.1,"a":0.275},{"p":"2.1","s":"L","f":836.9,"a":0.285},{"p":"2.1","s":"L","f":842.3,"a":0.303},{"p":"2.1","s":"L","f":846.4,"a":0.310},{"p":"2.1","s":"L","f":851.1,"a":0.296},{"p":"2.1","s":"L","f":860.5,"a":0.275},{"p":"2.1","s":"L","f":873.1,"a":0.270},{"p":"2.1","s":"L","f":892.0,"a":0.271},{"p":"2.1","s":"L","f":910.9,"a":0.278},{"p":"2.1","s":"L","f":929.8,"a":0.285},{"p":"2.1","s":"L","f":948.7,"a":0.288},{"p":"2.1","s":"L","f":961.3,"a":0.295},{"p":"2.1","s":"L","f":973.8,"a":0.301},{"p":"2.1","s":"L","f":986.4,"a":0.308},{"p":"2.1","s":"L","f":1002.2,"a":0.315},{"p":"2.1","s":"L","f":1017.9,"a":0.323},{"p":"2.1","s":"L","f":1033.6,"a":0.331},{"p":"2.1","s":"L","f":1047.8,"a":0.339},{"p":"2.1","s":"L","f":1054.1,"a":0.330},{"p":"2.1","s":"L","f":1060.4,"a":0.315},{"p":"2.1","s":"L","f":1064.5,"a":0.325},{"p":"2.1","s":"L","f":1069.9,"a":0.331},{"p":"2.1","s":"L","f":1076.1,"a":0.331},{"p":"2.1","s":"L","f":1079.3,"a":0.334},
{"p":"2.1","s":"R","f":1400,"a":0.338},{"p":"2.1","s":"R","f":1414.3,"a":0.341},{"p":"2.1","s":"R","f":1432.2,"a":0.358},{"p":"2.1","s":"R","f":1444.1,"a":0.395},{"p":"2.1","s":"R","f":1454.4,"a":0.418},{"p":"2.1","s":"R","f":1461.9,"a":0.426},{"p":"2.1","s":"R","f":1467.8,"a":0.428},{"p":"2.1","s":"R","f":1473.7,"a":0.425},{"p":"2.1","s":"R","f":1479.7,"a":0.405},{"p":"2.1","s":"R","f":1484.1,"a":0.388},{"p":"2.1","s":"R","f":1490.1,"a":0.368},{"p":"2.1","s":"R","f":1497.5,"a":0.345},{"p":"2.1","s":"R","f":1506.4,"a":0.321},{"p":"2.1","s":"R","f":1515.3,"a":0.301},{"p":"2.1","s":"R","f":1527.1,"a":0.281},{"p":"2.1","s":"R","f":1539.0,"a":0.266},{"p":"2.1","s":"R","f":1550.9,"a":0.260},{"p":"2.1","s":"R","f":1565.7,"a":0.258},{"p":"2.1","s":"R","f":1580.5,"a":0.256},{"p":"2.1","s":"R","f":1592.4,"a":0.251},{"p":"2.1","s":"R","f":1604.3,"a":0.246},{"p":"2.1","s":"R","f":1616.1,"a":0.243},{"p":"2.1","s":"R","f":1628.0,"a":0.245},{"p":"2.1","s":"R","f":1645.8,"a":0.248},{"p":"2.1","s":"R","f":1663.6,"a":0.251},{"p":"2.1","s":"R","f":1678.5,"a":0.255},{"p":"2.1","s":"R","f":1693.3,"a":0.261},{"p":"2.1","s":"R","f":1711.1,"a":0.270},{"p":"2.1","s":"R","f":1725.9,"a":0.278},{"p":"2.1","s":"R","f":1734.8,"a":0.288},{"p":"2.1","s":"R","f":1742.3,"a":0.305},{"p":"2.1","s":"R","f":1749.7,"a":0.315},{"p":"2.1","s":"R","f":1755.6,"a":0.320},{"p":"2.1","s":"R","f":1761.5,"a":0.316},{"p":"2.1","s":"R","f":1773.4,"a":0.306},{"p":"2.1","s":"R","f":1788.2,"a":0.295},{"p":"2.1","s":"R","f":1803.1,"a":0.281},{"p":"2.1","s":"R","f":1817.9,"a":0.265},{"p":"2.1","s":"R","f":1832.7,"a":0.246},{"p":"2.1","s":"R","f":1847.6,"a":0.230},{"p":"2.1","s":"R","f":1862.4,"a":0.215},{"p":"2.1","s":"R","f":1877.2,"a":0.201},{"p":"2.1","s":"R","f":1889.1,"a":0.190},{"p":"2.1","s":"R","f":1895.0,"a":0.185},
{"p":"1.3","s":"L","f":650.6,"a":0.293},{"p":"1.3","s":"L","f":657.5,"a":0.296},{"p":"1.3","s":"L","f":663.8,"a":0.295},{"p":"1.3","s":"L","f":668.5,"a":0.281},{"p":"1.3","s":"L","f":673.2,"a":0.266},{"p":"1.3","s":"L","f":678.0,"a":0.266},{"p":"1.3","s":"L","f":682.7,"a":0.285},{"p":"1.3","s":"L","f":687.4,"a":0.288},{"p":"1.3","s":"L","f":692.1,"a":0.281},{"p":"1.3","s":"L","f":696.9,"a":0.255},{"p":"1.3","s":"L","f":701.6,"a":0.211},{"p":"1.3","s":"L","f":705.7,"a":0.171},{"p":"1.3","s":"L","f":709.4,"a":0.161},{"p":"1.3","s":"L","f":714.2,"a":0.168},{"p":"1.3","s":"L","f":722.0,"a":0.172},{"p":"1.3","s":"L","f":734.6,"a":0.167},{"p":"1.3","s":"L","f":744.1,"a":0.158},{"p":"1.3","s":"L","f":751.9,"a":0.155},{"p":"1.3","s":"L","f":763.0,"a":0.158},{"p":"1.3","s":"L","f":775.5,"a":0.175},{"p":"1.3","s":"L","f":788.1,"a":0.188},{"p":"1.3","s":"L","f":800.7,"a":0.196},{"p":"1.3","s":"L","f":813.3,"a":0.197},{"p":"1.3","s":"L","f":825.9,"a":0.195},{"p":"1.3","s":"L","f":835.4,"a":0.200},{"p":"1.3","s":"L","f":841.7,"a":0.218},{"p":"1.3","s":"L","f":846.4,"a":0.239},{"p":"1.3","s":"L","f":851.1,"a":0.225},{"p":"1.3","s":"L","f":860.5,"a":0.206},{"p":"1.3","s":"L","f":873.1,"a":0.201},{"p":"1.3","s":"L","f":892.0,"a":0.206},{"p":"1.3","s":"L","f":910.9,"a":0.213},{"p":"1.3","s":"L","f":929.8,"a":0.218},{"p":"1.3","s":"L","f":948.7,"a":0.225},{"p":"1.3","s":"L","f":967.6,"a":0.233},{"p":"1.3","s":"L","f":986.4,"a":0.241},{"p":"1.3","s":"L","f":1005.3,"a":0.248},{"p":"1.3","s":"L","f":1024.2,"a":0.255},{"p":"1.3","s":"L","f":1040.0,"a":0.261},{"p":"1.3","s":"L","f":1049.4,"a":0.263},{"p":"1.3","s":"L","f":1055.1,"a":0.248},{"p":"1.3","s":"L","f":1059.5,"a":0.266},{"p":"1.3","s":"L","f":1068.3,"a":0.267},{"p":"1.3","s":"L","f":1079.3,"a":0.265},
{"p":"1.3","s":"R","f":1400,"a":0.266},{"p":"1.3","s":"R","f":1414.3,"a":0.271},{"p":"1.3","s":"R","f":1432.2,"a":0.291},{"p":"1.3","s":"R","f":1441.1,"a":0.308},{"p":"1.3","s":"R","f":1450.0,"a":0.328},{"p":"1.3","s":"R","f":1457.4,"a":0.345},{"p":"1.3","s":"R","f":1463.4,"a":0.353},{"p":"1.3","s":"R","f":1469.3,"a":0.351},{"p":"1.3","s":"R","f":1476.7,"a":0.335},{"p":"1.3","s":"R","f":1485.6,"a":0.308},{"p":"1.3","s":"R","f":1494.5,"a":0.281},{"p":"1.3","s":"R","f":1503.4,"a":0.255},{"p":"1.3","s":"R","f":1512.3,"a":0.231},{"p":"1.3","s":"R","f":1521.2,"a":0.211},{"p":"1.3","s":"R","f":1530.1,"a":0.198},{"p":"1.3","s":"R","f":1542.0,"a":0.188},{"p":"1.3","s":"R","f":1556.8,"a":0.183},{"p":"1.3","s":"R","f":1571.6,"a":0.178},{"p":"1.3","s":"R","f":1583.5,"a":0.171},{"p":"1.3","s":"R","f":1595.4,"a":0.165},{"p":"1.3","s":"R","f":1610.2,"a":0.158},{"p":"1.3","s":"R","f":1625.0,"a":0.160},{"p":"1.3","s":"R","f":1639.9,"a":0.165},{"p":"1.3","s":"R","f":1657.7,"a":0.170},{"p":"1.3","s":"R","f":1675.5,"a":0.176},{"p":"1.3","s":"R","f":1693.3,"a":0.185},{"p":"1.3","s":"R","f":1711.1,"a":0.195},{"p":"1.3","s":"R","f":1725.9,"a":0.205},{"p":"1.3","s":"R","f":1734.8,"a":0.218},{"p":"1.3","s":"R","f":1743.7,"a":0.228},{"p":"1.3","s":"R","f":1749.7,"a":0.233},{"p":"1.3","s":"R","f":1755.6,"a":0.233},{"p":"1.3","s":"R","f":1764.5,"a":0.223},{"p":"1.3","s":"R","f":1779.3,"a":0.210},{"p":"1.3","s":"R","f":1794.2,"a":0.195},{"p":"1.3","s":"R","f":1809.0,"a":0.181},{"p":"1.3","s":"R","f":1817.9,"a":0.171},{"p":"1.3","s":"R","f":1832.7,"a":0.155},{"p":"1.3","s":"R","f":1847.6,"a":0.140},{"p":"1.3","s":"R","f":1862.4,"a":0.126},{"p":"1.3","s":"R","f":1877.2,"a":0.115},{"p":"1.3","s":"R","f":1889.1,"a":0.106},{"p":"1.3","s":"R","f":1895.0,"a":0.103},
{"p":"0.4","s":"L","f":650.6,"a":0.248},{"p":"0.4","s":"L","f":655.9,"a":0.245},{"p":"0.4","s":"L","f":660.7,"a":0.241},{"p":"0.4","s":"L","f":665.4,"a":0.231},{"p":"0.4","s":"L","f":670.1,"a":0.206},{"p":"0.4","s":"L","f":674.8,"a":0.211},{"p":"0.4","s":"L","f":679.5,"a":0.218},{"p":"0.4","s":"L","f":683.6,"a":0.220},{"p":"0.4","s":"L","f":687.4,"a":0.215},{"p":"0.4","s":"L","f":692.1,"a":0.188},{"p":"0.4","s":"L","f":696.2,"a":0.148},{"p":"0.4","s":"L","f":700.0,"a":0.118},{"p":"0.4","s":"L","f":703.2,"a":0.111},{"p":"0.4","s":"L","f":707.9,"a":0.115},{"p":"0.4","s":"L","f":715.7,"a":0.108},{"p":"0.4","s":"L","f":723.6,"a":0.098},{"p":"0.4","s":"L","f":733.1,"a":0.093},{"p":"0.4","s":"L","f":744.1,"a":0.096},{"p":"0.4","s":"L","f":756.7,"a":0.105},{"p":"0.4","s":"L","f":769.3,"a":0.113},{"p":"0.4","s":"L","f":781.8,"a":0.123},{"p":"0.4","s":"L","f":794.4,"a":0.130},{"p":"0.4","s":"L","f":807.0,"a":0.133},{"p":"0.4","s":"L","f":819.6,"a":0.131},{"p":"0.4","s":"L","f":832.2,"a":0.131},{"p":"0.4","s":"L","f":840.1,"a":0.141},{"p":"0.4","s":"L","f":848.0,"a":0.179},{"p":"0.4","s":"L","f":852.7,"a":0.168},{"p":"0.4","s":"L","f":860.5,"a":0.155},{"p":"0.4","s":"L","f":873.1,"a":0.150},{"p":"0.4","s":"L","f":888.9,"a":0.147},{"p":"0.4","s":"L","f":907.7,"a":0.155},{"p":"0.4","s":"L","f":926.6,"a":0.158},{"p":"0.4","s":"L","f":945.5,"a":0.161},{"p":"0.4","s":"L","f":964.4,"a":0.170},{"p":"0.4","s":"L","f":983.3,"a":0.178},{"p":"0.4","s":"L","f":1002.2,"a":0.185},{"p":"0.4","s":"L","f":1021.1,"a":0.190},{"p":"0.4","s":"L","f":1036.8,"a":0.196},{"p":"0.4","s":"L","f":1046.2,"a":0.193},{"p":"0.4","s":"L","f":1055.7,"a":0.208},{"p":"0.4","s":"L","f":1063.5,"a":0.211},{"p":"0.4","s":"L","f":1069.9,"a":0.210},{"p":"0.4","s":"L","f":1075.2,"a":0.215},{"p":"0.4","s":"L","f":1079.3,"a":0.204},
{"p":"0.4","s":"R","f":1400,"a":0.203},{"p":"0.4","s":"R","f":1414.3,"a":0.211},{"p":"0.4","s":"R","f":1432.2,"a":0.236},{"p":"0.4","s":"R","f":1441.1,"a":0.255},{"p":"0.4","s":"R","f":1448.5,"a":0.268},{"p":"0.4","s":"R","f":1455.9,"a":0.278},{"p":"0.4","s":"R","f":1460.4,"a":0.281},{"p":"0.4","s":"R","f":1466.3,"a":0.275},{"p":"0.4","s":"R","f":1473.7,"a":0.255},{"p":"0.4","s":"R","f":1482.6,"a":0.228},{"p":"0.4","s":"R","f":1491.5,"a":0.201},{"p":"0.4","s":"R","f":1500.4,"a":0.178},{"p":"0.4","s":"R","f":1509.3,"a":0.155},{"p":"0.4","s":"R","f":1518.2,"a":0.135},{"p":"0.4","s":"R","f":1527.1,"a":0.121},{"p":"0.4","s":"R","f":1539.0,"a":0.111},{"p":"0.4","s":"R","f":1550.9,"a":0.105},{"p":"0.4","s":"R","f":1562.7,"a":0.098},{"p":"0.4","s":"R","f":1577.6,"a":0.088},{"p":"0.4","s":"R","f":1589.4,"a":0.078},{"p":"0.4","s":"R","f":1601.3,"a":0.073},{"p":"0.4","s":"R","f":1616.1,"a":0.073},{"p":"0.4","s":"R","f":1633.9,"a":0.078},{"p":"0.4","s":"R","f":1651.8,"a":0.083},{"p":"0.4","s":"R","f":1669.6,"a":0.091},{"p":"0.4","s":"R","f":1687.4,"a":0.101},{"p":"0.4","s":"R","f":1705.2,"a":0.115},{"p":"0.4","s":"R","f":1720.0,"a":0.125},{"p":"0.4","s":"R","f":1728.9,"a":0.135},{"p":"0.4","s":"R","f":1737.8,"a":0.145},{"p":"0.4","s":"R","f":1746.7,"a":0.150},{"p":"0.4","s":"R","f":1755.6,"a":0.143},{"p":"0.4","s":"R","f":1767.5,"a":0.128},{"p":"0.4","s":"R","f":1782.3,"a":0.115},{"p":"0.4","s":"R","f":1797.1,"a":0.098},{"p":"0.4","s":"R","f":1812.0,"a":0.085},{"p":"0.4","s":"R","f":1823.8,"a":0.071},{"p":"0.4","s":"R","f":1838.7,"a":0.058},{"p":"0.4","s":"R","f":1853.5,"a":0.045},{"p":"0.4","s":"R","f":1868.3,"a":0.035},{"p":"0.4","s":"R","f":1883.2,"a":0.025},{"p":"0.4","s":"R","f":1895.0,"a":0.015}
],
"labels": [
{"t":"24.2 GPa","f":1633,"a":1.103},{"t":"17.9 GPa","f":1633,"a":1.023},{"t":"14.7 GPa","f":1633,"a":0.918},{"t":"12.5 GPa","f":1633,"a":0.811},{"t":"10.2 GPa","f":1633,"a":0.678},{"t":"7.9 GPa","f":1633,"a":0.566},{"t":"5.7 GPa","f":1633,"a":0.460},{"t":"4.2 GPa","f":1633,"a":0.368},{"t":"2.1 GPa","f":1633,"a":0.286},{"t":"1.3 GPa","f":1633,"a":0.200},{"t":"0.4 GPa","f":1633,"a":0.115}
],
"panel": [{"t":"a","f":674.6,"a":1.108}],
"breakBottom": [
{"id":"b1","f":1073.1,"a":-0.016},{"id":"b1","f":1393.0,"a":0.020},
{"id":"b2","f":1393.9,"a":-0.016},{"id":"b2","f":1409.0,"a":0.020}
],
"breakTop": [
{"id":"t1","f":1071.2,"a":1.155},{"id":"t1","f":1284.2,"a":1.188},
{"id":"t2","f":1284.2,"a":1.155},{"id":"t2","f":1404.6,"a":1.188}
]
},
"layer": [
{
 "data": {"name": "spectra"},
 "mark": {"type": "line", "color": "black", "strokeWidth": 1.8},
 "encoding": {
  "x": {"field": "f", "type": "quantitative",
   "scale": {"domain": [650, 1081, 1393, 1895], "range": [0, 456.4, 465, 1029], "zero": false, "nice": false},
   "axis": {"orient": "bottom", "values": [700, 800, 900, 1000, 1500, 1600, 1700, 1800], "format": "d", "ticks": false, "labelFontSize": 42, "labelPadding": 28, "labelFlush": false, "labelOverlap": false, "title": "Frequency (cm⁻¹)", "titleFontSize": 52, "titleX": 506, "titleY": 134, "titleAlign": "center", "titleBaseline": "alphabetic"}},
  "y": {"field": "a", "type": "quantitative",
   "scale": {"domain": [0, 1.176], "zero": false, "nice": false},
   "axis": {"orient": "left", "ticks": false, "labels": false, "title": "Absorbance", "titleFontSize": 59, "titleX": -38, "titleY": 600, "titleAngle": 270, "titleAlign": "center", "titleBaseline": "alphabetic"}},
  "detail": [{"field": "p"}, {"field": "s"}]
 }
},
{
 "data": {"name": "labels"},
 "mark": {"type": "text", "fontSize": 42, "font": "Liberation Sans", "align": "center", "baseline": "alphabetic", "color": "black"},
 "encoding": {
  "x": {"field": "f", "type": "quantitative", "axis": {"orient": "bottom", "values": [700, 800, 900, 1000, 1500, 1600, 1700, 1800], "tickSize": -22, "labels": false, "title": null}},
  "y": {"field": "a", "type": "quantitative", "axis": {"orient": "left", "values": [0.062, 0.186, 0.310, 0.434, 0.558, 0.682, 0.806, 0.930, 1.054], "tickSize": -22, "labels": false, "title": null}},
  "text": {"field": "t"}
 }
},
{
 "data": {"name": "panel"},
 "mark": {"type": "text", "fontSize": 50, "font": "Liberation Sans", "align": "left", "baseline": "alphabetic", "color": "black"},
 "encoding": {
  "x": {"field": "f", "type": "quantitative", "axis": {"orient": "top", "values": [700, 800, 900, 1000, 1500, 1600, 1700, 1800], "tickSize": -22, "labels": false, "title": null}},
  "y": {"field": "a", "type": "quantitative", "axis": {"orient": "right", "values": [0.062, 0.186, 0.310, 0.434, 0.558, 0.682, 0.806, 0.930, 1.054], "tickSize": -22, "labels": false, "title": null}},
  "text": {"field": "t"}
 }
},
{
 "data": {"name": "breakBottom"},
 "mark": {"type": "line", "color": "black", "strokeWidth": 3, "clip": false},
 "encoding": {
  "x": {"field": "f", "type": "quantitative", "axis": {"orient": "bottom", "values": [750, 850, 950, 1050, 1450, 1550, 1650, 1750, 1850], "tickSize": -12, "labels": false, "title": null}},
  "y": {"field": "a", "type": "quantitative", "axis": {"orient": "left", "values": [0.124, 0.248, 0.372, 0.496, 0.620, 0.744, 0.868, 0.992, 1.116], "tickSize": -12, "labels": false, "title": null}},
  "detail": {"field": "id"}
 }
},
{
 "data": {"name": "breakTop"},
 "mark": {"type": "line", "color": "black", "strokeWidth": 3, "clip": false},
 "encoding": {
  "x": {"field": "f", "type": "quantitative", "axis": {"orient": "top", "values": [750, 850, 950, 1050, 1450, 1550, 1650, 1750, 1850], "tickSize": -12, "labels": false, "title": null}},
  "y": {"field": "a", "type": "quantitative", "axis": {"orient": "right", "values": [0.124, 0.248, 0.372, 0.496, 0.620, 0.744, 0.868, 0.992, 1.116], "tickSize": -12, "labels": false, "title": null}},
  "detail": {"field": "id"}
 }
}
],
"resolve": {"axis": {"x": "independent", "y": "independent"}}
}
